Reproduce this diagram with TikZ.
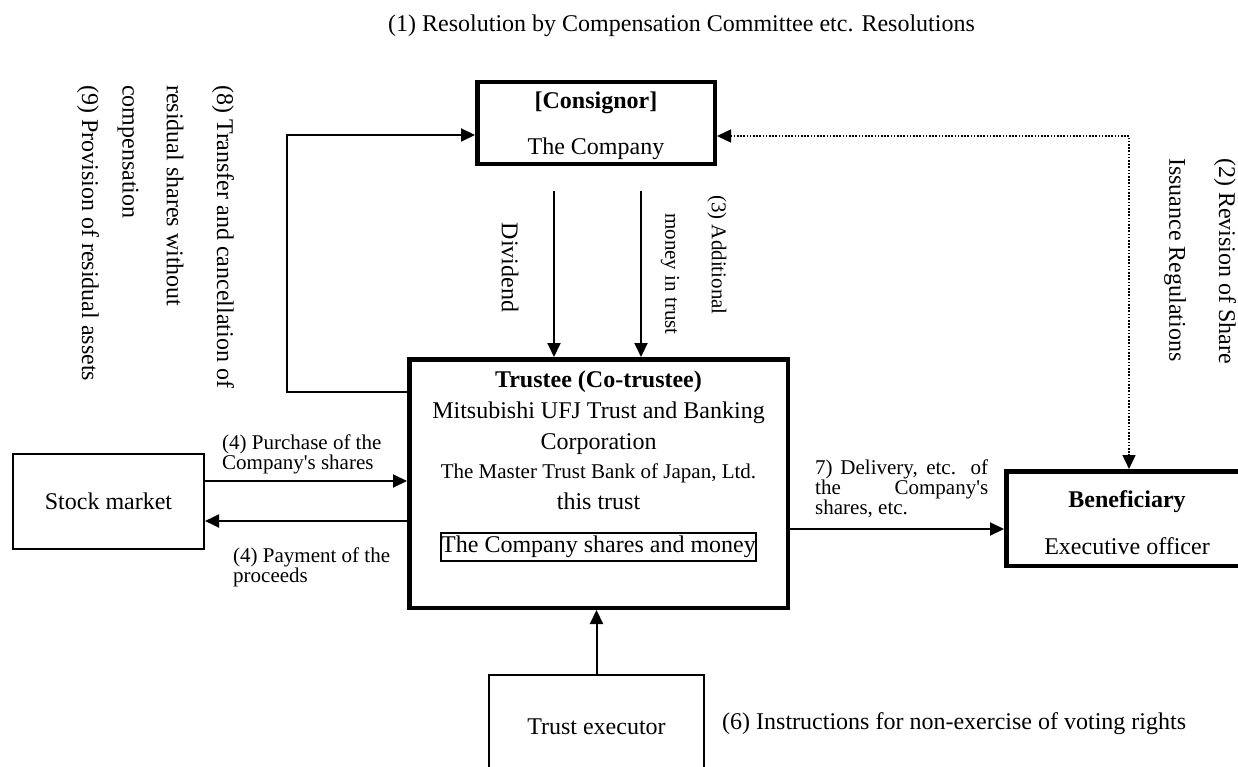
\documentclass[tikz,border=0pt]{standalone}
\usepackage{fontspec}
\setmainfont{Liberation Serif}[Ligatures=TeXOff]
\usetikzlibrary{arrows.meta}
\begin{document}
\begin{tikzpicture}[x=1pt,y=-1pt,
  thickbox/.style={draw,line width=4.5pt,inner sep=0pt,align=center},
  thinbox/.style={draw,line width=1.6pt,inner sep=0pt,align=center},
  arrowend/.style={-{Triangle[length=14pt,width=13pt]}},
  conn/.style={line width=2pt,arrowend},
  dotconn/.style={line width=1.6pt,dash pattern=on 1.6pt off 1.6pt,{Triangle[length=14pt,width=13pt]}-{Triangle[length=14pt,width=13pt]}},
  big/.style={font=\fontsize{24}{27}\selectfont},
  mid/.style={font=\fontsize{21}{20}\selectfont},
  txt/.style={inner sep=0pt},
  vtxt/.style={rotate=-90,anchor=west,inner sep=0pt}
]
\useasboundingbox (0,0) rectangle (1238,767);
\clip (0,0) rectangle (1238,767);
\fill[white] (0,0) rectangle (1238,767);

% title
\node[big,txt,anchor=base west] (t1) at (388,32) {(1) Resolution by Compensation Committee etc. Resolutions};

% vertical labels
\node[big,vtxt] (t8a) at (223,85) {(8) Transfer and cancellation of};
\node[big,vtxt] (t8b) at (175,85) {residual shares without};
\node[big,vtxt] (t8c) at (128,85) {compensation};
\node[big,vtxt] (t9) at (88,85) {(9) Provision of residual assets};
\node[big,vtxt] (t2a) at (1225,158) {(2) Revision of Share};
\node[big,vtxt] (t2b) at (1175,158) {Issuance Regulations};
\node[mid,vtxt] (t3a) at (717,195) {(3) Additional};
\node[mid,vtxt] (t3b) at (670,213) {money in trust};
\node[big,rotate=-90,inner sep=0pt] (tdiv) at (510,267.5) {Dividend};

% boxes
\node[thickbox,big,minimum width=237.5pt,minimum height=82pt] (cs) at (596,123) {\rule{0pt}{22.5pt}\textbf{[Consignor]}\\[19pt]The Company};
\node[thickbox,minimum width=378.5pt,minimum height=248.5pt] (tr) at (598.5,483.5) {};
\node[big,txt,anchor=base] (tr1) at (598.5,387) {\textbf{Trustee (Co-trustee)}};
\node[big,txt,anchor=base] (tr2) at (598.5,418) {Mitsubishi UFJ Trust and Banking};
\node[big,txt,anchor=base] (tr3) at (598.5,449) {Corporation};
\node[mid,txt,anchor=base] (tr4) at (598.5,478) {The Master Trust Bank of Japan, Ltd.};
\node[big,txt,anchor=base] (tr5) at (598.5,509) {this trust};
\node[thinbox,big,minimum width=315.5pt,minimum height=28.5pt] (cm) at (598.5,547) {The Company shares and money};
\node[thickbox,big,minimum width=241.5pt,minimum height=94.5pt] (bf) at (1127,518.5) {\rule{0pt}{24.5pt}\textbf{Beneficiary}\\[20pt]Executive officer};
\node[thinbox,big,minimum width=191.5pt,minimum height=95.5pt] (sm) at (108.5,501.5) {Stock market};
\node[thinbox,big,minimum width=215.5pt,minimum height=104.5pt] (te) at (596.5,727) {Trust executor};

% connector labels
\node[mid,txt,anchor=west,align=left] (lp) at (222,454) {(4) Purchase of the\\Company's shares};
\node[font=\fontsize{21}{17.5}\selectfont,txt,anchor=west,align=left] (lpay) at (233,567) {(4) Payment of the\\proceeds};
\node[font=\fontsize{21}{18}\selectfont,txt,anchor=west] (ld) at (815,489) {\parbox{173pt}{7) Delivery, etc. of\linebreak the Company's\linebreak shares, etc.}};
\node[big,txt,anchor=base west] (l6) at (722,729) {(6) Instructions for non-exercise of voting rights};

% connectors
\coordinate (l1) at (287,392);
\coordinate (l2) at (287,135);
\draw[conn] (tr.west |- l1) -- (l1) -- (l2) -- (l2 -| cs.west);
\coordinate (dv) at (554,191);
\draw[conn] (dv) -- (dv |- tr.north);
\coordinate (ad) at (641,191);
\draw[conn] (ad) -- (ad |- tr.north);
\coordinate (dt) at (1129,136);
\draw[dotconn] (dt -| cs.east) -- (dt) -- (dt |- bf.north);
\coordinate (p1) at (300,481);
\draw[conn] (p1 -| sm.east) -- (p1 -| tr.west);
\coordinate (p2) at (300,521);
\draw[conn] (p2 -| tr.west) -- (p2 -| sm.east);
\coordinate (p3) at (900,529);
\draw[conn] (p3 -| tr.east) -- (p3 -| bf.west);
\draw[conn] (te.north) -- (te.north |- tr.south);
\end{tikzpicture}
\end{document}
